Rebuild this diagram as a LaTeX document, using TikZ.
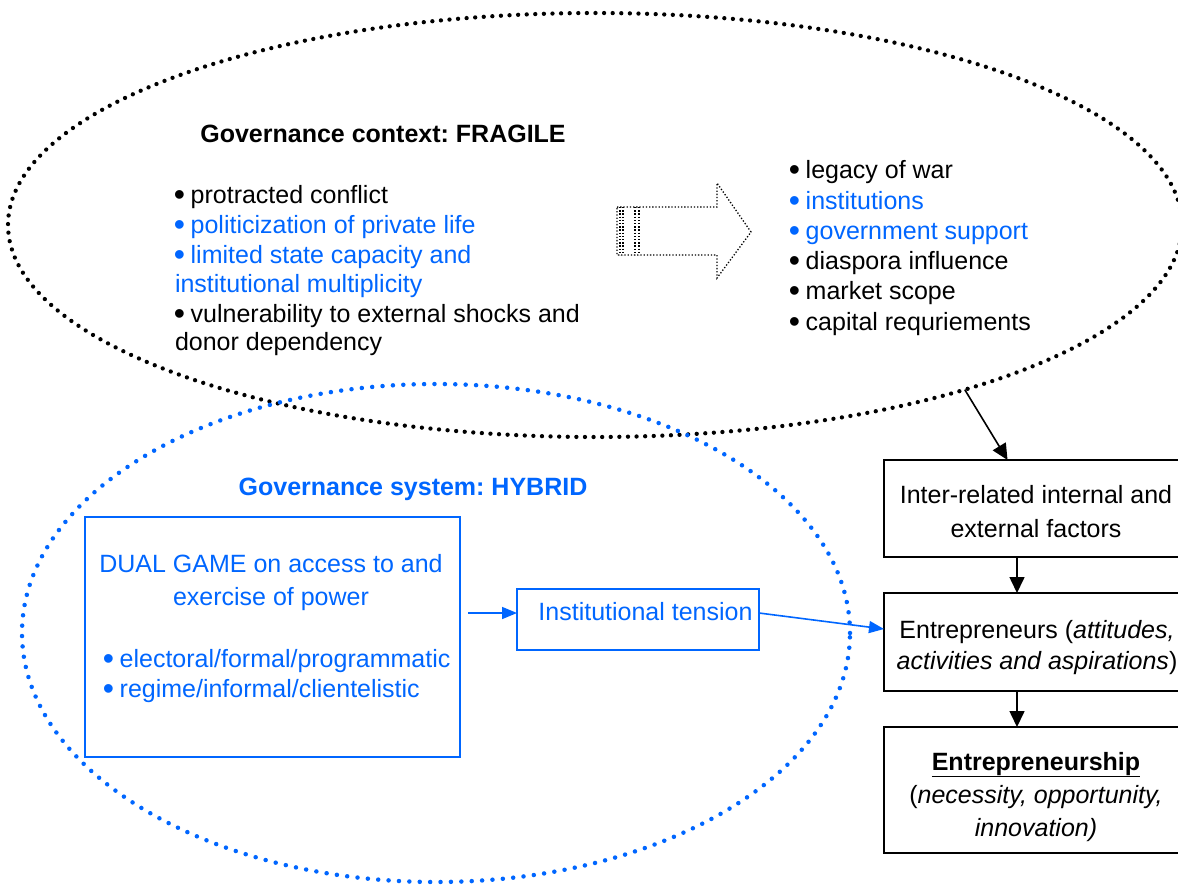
\documentclass[tikz,border=0pt]{standalone}
\usepackage{fontspec}
\setmainfont{Liberation Sans}
\frenchspacing
\usetikzlibrary{shapes.geometric,arrows.meta}
\definecolor{gblue}{RGB}{0,102,255}
\newcommand{\bigbul}{\makebox[8.75pt][c]{\raisebox{-2pt}{\fontsize{32pt}{30pt}\selectfont •}}}
\tikzset{
  txt/.style={font=\fontsize{25pt}{30pt}\selectfont, inner sep=0pt, outer sep=0pt},
  bluetxt/.style={txt, text=gblue},
  blackdots/.style={draw=black, line width=4.3pt, line cap=round, dash pattern=on 0pt off 8.6pt},
  bluedots/.style={draw=gblue, line width=4.5pt, line cap=round, dash pattern=on 0pt off 10.4pt},
  bbox/.style={draw=black, line width=1.6pt, minimum width=306pt, inner sep=0pt, outer sep=0pt},
  bluebox/.style={draw=gblue, line width=1.6pt, inner sep=0pt, outer sep=0pt},
  barrow/.style={draw=black, line width=1.6pt, -{Triangle[length=16pt,width=15pt]}},
  blarrow/.style={draw=gblue, line width=1.6pt, -{Triangle[length=15pt,width=12pt]}},
  hollow/.style={draw=black, line width=1.3pt, dash pattern=on 1.3pt off 1.9pt},
}
\begin{document}
\begin{tikzpicture}[x=1pt,y=-1pt]
\useasboundingbox (0,0) rectangle (1178,884);
% ellipses
\node[ellipse, blackdots, minimum width=1174pt, minimum height=424pt, inner sep=0pt, outer sep=0pt] (ctx) at (595,225) {};
\node[ellipse, bluedots, minimum width=828pt, minimum height=498pt, inner sep=0pt, outer sep=0pt] (sys) at (436,633) {};

% title context
\node[txt, anchor=base, font=\fontsize{25pt}{30pt}\selectfont\bfseries] (ctxtitle) at (383,142) {Governance context: FRAGILE};
% left list
\node[txt, anchor=base west] (l1) at (175,203) {\bigbul{} protracted conflict};
\node[bluetxt, anchor=base west] (l2) at (175,233) {\bigbul{} politicization of private life};
\node[bluetxt, anchor=base west] (l3) at (175,263) {\bigbul{} limited state capacity and};
\node[bluetxt, anchor=base west] (l4) at (175,292) {institutional multiplicity};
\node[txt, anchor=base west] (l5) at (175,322) {\bigbul{} vulnerability to external shocks and};
\node[txt, anchor=base west] (l6) at (175,350) {donor dependency};
% hollow arrow
\draw[hollow] (617,207) -- (717,207) -- (717,183) -- (751,232) -- (717,278) -- (717,255) -- (617,255) -- cycle;
\foreach \xx in {620,623,635,639} \draw[hollow] (\xx,207) -- (\xx,255);
% right list
\node[txt, anchor=base west] (r1) at (790,178) {\bigbul{} legacy of war};
\node[bluetxt, anchor=base west] (r2) at (790,209) {\bigbul{} institutions};
\node[bluetxt, anchor=base west] (r3) at (790,239) {\bigbul{} government support};
\node[txt, anchor=base west] (r4) at (790,269) {\bigbul{} diaspora influence};
\node[txt, anchor=base west] (r5) at (790,299) {\bigbul{} market scope};
\node[txt, anchor=base west] (r6) at (790,330) {\bigbul{} capital requriements};

% system title
\node[bluetxt, anchor=base, font=\fontsize{25pt}{30pt}\selectfont\bfseries] (systitle) at (413,495) {Governance system: HYBRID};
% dual game box
\node[bluebox, minimum width=375pt, minimum height=240pt] (dual) at (272.5,637) {};
\node[bluetxt, anchor=base] (d1) at (271,572) {DUAL GAME on access to and};
\node[bluetxt, anchor=base] (d2) at (271,605) {exercise of power};
\node[bluetxt, anchor=base west] (d3) at (104,667) {\bigbul{} electoral/formal/programmatic};
\node[bluetxt, anchor=base west] (d4) at (104,697) {\bigbul{} regime/informal/clientelistic};
% institutional tension
\node[bluebox, minimum width=242pt, minimum height=61pt] (inst) at (638,619.5) {};
\node[bluetxt, anchor=base] (it) at (645.5,620) {Institutional tension};

% right boxes
\node[bbox, minimum height=97pt] (inter) at (1037,508.5) {};
\node[txt, anchor=base] (i1) at (1036,503) {Inter-related internal and};
\node[txt, anchor=base] (i2) at (1036,537) {external factors};
\node[bbox, minimum height=98pt] (entr) at (1037,642) {};
\node[txt, anchor=base] (e1) at (1037,638) {Entrepreneurs (\textit{attitudes,}};
\node[txt, anchor=base] (e2) at (1037,669) {\textit{activities and aspirations})};
\node[bbox, minimum height=126pt] (ship) at (1037,790) {};
\node[txt, anchor=base, font=\fontsize{25pt}{30pt}\selectfont\bfseries] (s1) at (1036,770) {\underline{Entrepreneurship}};
\node[txt, anchor=base] (s2) at (1036,803) {(\textit{necessity, opportunity,}};
\node[txt, anchor=base] (s3) at (1036,836) {\textit{innovation)}};

% connectors
\draw[barrow] (ctx.-24) -- (inter);
\draw[barrow] ([xshift=-20pt]inter.south) -- ([xshift=-20pt]entr.north);
\draw[barrow] ([xshift=-20pt]entr.south) -- ([xshift=-20pt]ship.north);
\draw[blarrow] ([xshift=8pt,yshift=24pt]dual.east) -- ([yshift=6.5pt]inst.west);
\draw[blarrow] ([yshift=6.5pt]inst.east) -- ([yshift=13pt]entr.west);
\end{tikzpicture}
\end{document}
